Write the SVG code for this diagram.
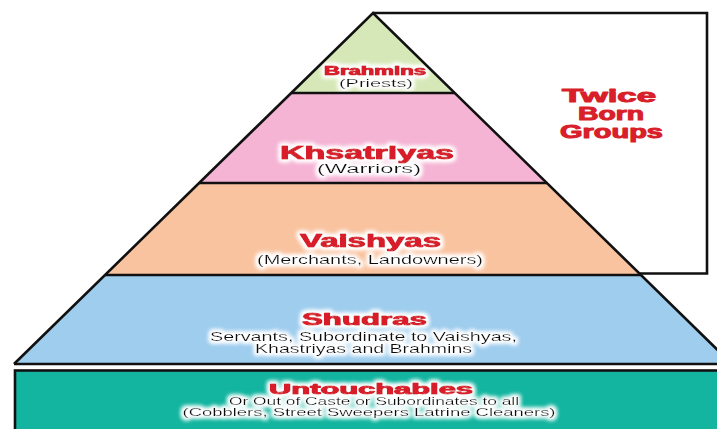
<svg xmlns="http://www.w3.org/2000/svg" width="717" height="429" viewBox="0 0 717 429">
<defs>
<filter id="glow" x="-15%" y="-40%" width="130%" height="180%">
<feMorphology in="SourceAlpha" operator="dilate" radius="1.5" result="d"/>
<feGaussianBlur in="d" stdDeviation="2" result="b"/>
<feFlood flood-color="#ffffff"/>
<feComposite in2="b" operator="in" result="g"/>
<feMerge><feMergeNode in="g"/><feMergeNode in="g"/><feMergeNode in="SourceGraphic"/></feMerge>
</filter>
</defs>
<style>
.title{font-family:"Liberation Sans",Arial,sans-serif;font-weight:bold;fill:#d81f2a;stroke:#d81f2a;stroke-width:1;stroke-linejoin:round;text-anchor:middle}
.sub{font-family:"Liberation Sans",Arial,sans-serif;fill:#111;text-anchor:middle}
.edge{fill:none;stroke:#111;stroke-width:2.6;stroke-linejoin:miter}
.lab{filter:url(#glow)}
</style>
<rect width="717" height="429" fill="#ffffff"/>
<g id="untouchables">
<rect x="15" y="370.5" width="720" height="80" fill="#13b5a0" stroke="#111" stroke-width="2.6"/>
<g class="lab">
<text class="title" x="371" y="394" font-size="14.5" textLength="204" lengthAdjust="spacingAndGlyphs">Untouchables</text>
<text class="sub" x="374" y="404.5" font-size="11.5" textLength="290" lengthAdjust="spacingAndGlyphs">Or Out of Caste or Subordinates to all</text>
<text class="sub" x="369" y="415.5" font-size="11.5" textLength="373" lengthAdjust="spacingAndGlyphs">(Cobblers, Street Sweepers Latrine Cleaners)</text>
</g>
</g>
<g id="shudras">
<polygon points="105,275 641,275 732,364 14,364" fill="#9fcdee"/>
<g class="lab">
<text class="title" x="364.5" y="325" font-size="16.5" textLength="125" lengthAdjust="spacingAndGlyphs">Shudras</text>
<text class="sub" x="363.5" y="341" font-size="13" textLength="307" lengthAdjust="spacingAndGlyphs">Servants, Subordinate to Vaishyas,</text>
<text class="sub" x="363.5" y="353" font-size="13" textLength="217" lengthAdjust="spacingAndGlyphs">Khastriyas and Brahmins</text>
</g>
</g>
<g id="vaishyas">
<polygon points="199,183 547,183 641,275 105,275" fill="#f9c3a0"/>
<g class="lab">
<text class="title" x="370.5" y="247" font-size="19" textLength="141" lengthAdjust="spacingAndGlyphs">Vaishyas</text>
<text class="sub" x="370" y="264" font-size="13" textLength="226" lengthAdjust="spacingAndGlyphs">(Merchants, Landowners)</text>
</g>
</g>
<g id="khsatriyas">
<polygon points="291,93 455,93 547,183 199,183" fill="#f5b4d4"/>
<g class="lab">
<text class="title" x="367" y="159" font-size="19" textLength="174" lengthAdjust="spacingAndGlyphs">Khsatriyas</text>
<text class="sub" x="369" y="172.5" font-size="12.5" textLength="104" lengthAdjust="spacingAndGlyphs">(Warriors)</text>
</g>
</g>
<g id="brahmins">
<polygon points="373,13 455,93 291,93" fill="#d6e8b8"/>
<g class="lab">
<text class="title" x="375" y="75" font-size="12" textLength="102" lengthAdjust="spacingAndGlyphs">Brahmins</text>
<text class="sub" x="376" y="87" font-size="11" textLength="74" lengthAdjust="spacingAndGlyphs">(Priests)</text>
</g>
</g>
<g id="connectors">
<line class="edge" x1="291" y1="93" x2="455" y2="93"/>
<line class="edge" x1="199" y1="183" x2="547" y2="183"/>
<line class="edge" x1="105" y1="275" x2="641" y2="275"/>
<line class="edge" x1="14" y1="364" x2="720" y2="364"/>
<polyline class="edge" points="732,364 373,13 14,364"/>
<polyline class="edge" points="373,13 707,13 707,273.5 639,273.5"/>
</g>
<g id="twice-born">
<text class="title" x="609" y="102" font-size="18" textLength="94" lengthAdjust="spacingAndGlyphs">Twice</text>
<text class="title" x="611" y="120" font-size="18" textLength="66" lengthAdjust="spacingAndGlyphs">Born</text>
<text class="title" x="611.5" y="138" font-size="18" textLength="103" lengthAdjust="spacingAndGlyphs">Groups</text>
</g>
</svg>
